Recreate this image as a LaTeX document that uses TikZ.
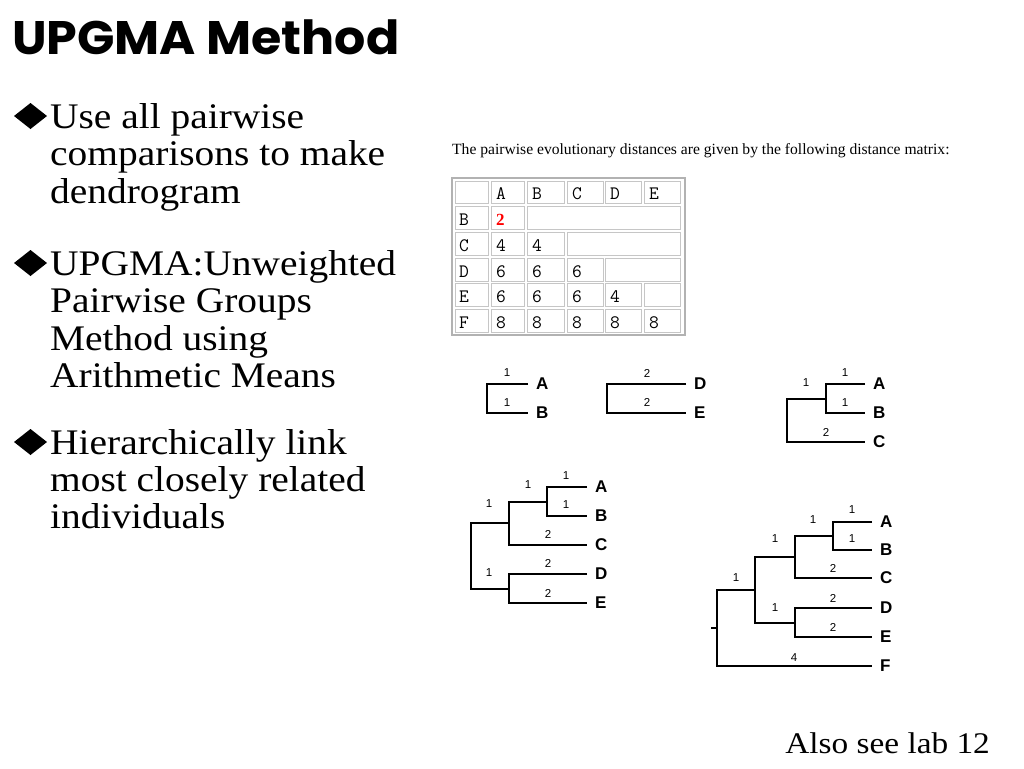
\documentclass[tikz,border=0pt]{standalone}
\usepackage{fontspec}
\usepackage{graphicx}
\setmainfont{Liberation Serif}
\newfontfamily\titlefont{Poppins}
\newfontfamily\sansfont{Liberation Sans}
\newcommand\mydiamond[1]{\fill (14,#1-12) -- (30.5,#1-25) -- (47,#1-12) -- (30.5,#1+1) -- cycle;}
\newcommand\wide[1]{\scalebox{1.095}[1]{#1}}
\begin{document}
\begin{tikzpicture}[x=1pt,y=-1pt,
  bodytext/.style={anchor=base west, inner sep=0pt, font=\fontsize{36}{37.5}\selectfont},
  branch/.style={line width=2pt, line join=miter},
  leaf/.style={anchor=west, inner xsep=8pt, inner ysep=0pt, font=\sansfont\bfseries\fontsize{17}{17}\selectfont},
  blabel/.style={inner sep=0pt, font=\sansfont\fontsize{11.5}{11.5}\selectfont},
  cellline/.style={draw=gray!45, line width=1pt},
  celltext/.style={anchor=base west, inner sep=0pt, font=\ttfamily\fontsize{19}{19}\selectfont}]
\useasboundingbox (0,0) rectangle (1024,768);
\fill[white] (0,0) rectangle (1024,768);

% title
\node[anchor=base west, inner sep=0pt] (title) at (12,55) {\titlefont\bfseries\fontsize{47}{47}\selectfont\scalebox{1.045}[1]{UPGMA Method}};

% bullets
\mydiamond{128}
\node[bodytext] (b1a) at (50,128) {\wide{Use all pairwise}};
\node[bodytext] (b1b) at (50,165.5) {\wide{comparisons to make}};
\node[bodytext] (b1c) at (50,203) {\wide{dendrogram}};
\mydiamond{275}
\node[bodytext] (b2a) at (50,275) {\wide{UPGMA:Unweighted}};
\node[bodytext] (b2b) at (50,312.5) {\wide{Pairwise Groups}};
\node[bodytext] (b2c) at (50,350) {\wide{Method using}};
\node[bodytext] (b2d) at (50,387.5) {\wide{Arithmetic Means}};
\mydiamond{454}
\node[bodytext] (b3a) at (50,454) {\wide{Hierarchically link}};
\node[bodytext] (b3b) at (50,491) {\wide{most closely related}};
\node[bodytext] (b3c) at (50,528) {\wide{individuals}};

\node[anchor=base east, inner sep=0pt, font=\fontsize{30}{30}\selectfont] (also) at (990,753) {\scalebox{1.11}[1]{Also see lab 12}};

% caption
\node[anchor=base west, inner sep=0pt, font=\fontsize{15.6}{15.6}\selectfont] (cap) at (452,154) {The pairwise evolutionary distances are given by the following distance matrix:};

% table
\draw[draw=gray!60, line width=1.5pt] (452,178) rectangle (685,335);
\foreach \xa/\xb in {455/488,491/524,527/564,567/603,605/641,644/680} {
  \draw[cellline] (\xa,181) rectangle (\xb,203);
  \draw[cellline] (\xa,309) rectangle (\xb,332);
  \draw[cellline] (\xa,283) rectangle (\xb,306);
}
\draw[cellline] (455,206) rectangle (488,229);
\draw[cellline] (491,206) rectangle (524,229);
\draw[cellline] (527,206) rectangle (680,229);
\draw[cellline] (455,232) rectangle (488,255);
\draw[cellline] (491,232) rectangle (524,255);
\draw[cellline] (527,232) rectangle (564,255);
\draw[cellline] (567,232) rectangle (680,255);
\foreach \xa/\xb in {455/488,491/524,527/564,567/603} {
  \draw[cellline] (\xa,258) rectangle (\xb,281);
}
\draw[cellline] (605,258) rectangle (680,281);

\node[celltext] (hA) at (496,199) {A};
\node[celltext] (hB) at (532,199) {B};
\node[celltext] (hC) at (572,199) {C};
\node[celltext] (hD) at (610,199) {D};
\node[celltext] (hE) at (649,199) {E};
\node[celltext] (rB) at (459,225) {B};
\node[anchor=base west, inner sep=0pt, text=red, font=\bfseries\fontsize{17}{17}\selectfont] (vBA) at (496,225) {2};
\node[celltext] (rC) at (459,251) {C};
\node[celltext] (vCA) at (496,251) {4};
\node[celltext] (vCB) at (532,251) {4};
\node[celltext] (rD) at (459,277) {D};
\node[celltext] (vDA) at (496,277) {6};
\node[celltext] (vDB) at (532,277) {6};
\node[celltext] (vDC) at (572,277) {6};
\node[celltext] (rE) at (459,302) {E};
\node[celltext] (vEA) at (496,302) {6};
\node[celltext] (vEB) at (532,302) {6};
\node[celltext] (vEC) at (572,302) {6};
\node[celltext] (vED) at (610,302) {4};
\node[celltext] (rF) at (459,328) {F};
\node[celltext] (vFA) at (496,328) {8};
\node[celltext] (vFB) at (532,328) {8};
\node[celltext] (vFC) at (572,328) {8};
\node[celltext] (vFD) at (610,328) {8};
\node[celltext] (vFE) at (649,328) {8};

% tree 1
\node[leaf] (t1A) at (528,384) {A};
\node[leaf] (t1B) at (528,413) {B};
\coordinate (t1j) at (487,398.5);
\draw[branch] (t1A.west) -| (t1j) |- (t1B.west);
\node[blabel] (t1l1) at (507,373) {1};
\node[blabel] (t1l2) at (507,403) {1};

% tree 2
\node[leaf] (t2D) at (686,384) {D};
\node[leaf] (t2E) at (686,413) {E};
\coordinate (t2j) at (607,398.5);
\draw[branch] (t2D.west) -| (t2j) |- (t2E.west);
\node[blabel] (t2l1) at (647,373) {2};
\node[blabel] (t2l2) at (647,402) {2};

% tree 3
\node[leaf] (t3A) at (865,384) {A};
\node[leaf] (t3B) at (865,413) {B};
\node[leaf] (t3C) at (865,442) {C};
\coordinate (t3ab) at (826,398.5);
\coordinate (t3r) at (787,420);
\draw[branch] (t3A.west) -| (t3ab) |- (t3B.west);
\draw[branch] (t3ab) -| (t3r) |- (t3C.west);
\node[blabel] (t3l1) at (845,373) {1};
\node[blabel] (t3l2) at (845,403) {1};
\node[blabel] (t3l3) at (806,383) {1};
\node[blabel] (t3l4) at (826,432) {2};

% tree 4
\node[leaf] (t4A) at (587,487) {A};
\node[leaf] (t4B) at (587,516) {B};
\node[leaf] (t4C) at (587,545) {C};
\node[leaf] (t4D) at (587,574) {D};
\node[leaf] (t4E) at (587,603) {E};
\coordinate (t4ab) at (547,501.5);
\coordinate (t4abc) at (509,523.25);
\coordinate (t4de) at (509,588.5);
\coordinate (t4r) at (471,556);
\draw[branch] (t4A.west) -| (t4ab) |- (t4B.west);
\draw[branch] (t4ab) -| (t4abc) |- (t4C.west);
\draw[branch] (t4D.west) -| (t4de) |- (t4E.west);
\draw[branch] (t4abc) -| (t4r) |- (t4de);
\node[blabel] (t4l1) at (566,476) {1};
\node[blabel] (t4l2) at (566,505) {1};
\node[blabel] (t4l3) at (528,485) {1};
\node[blabel] (t4l4) at (548,534) {2};
\node[blabel] (t4l5) at (489,504) {1};
\node[blabel] (t4l6) at (548,563) {2};
\node[blabel] (t4l7) at (548,593) {2};
\node[blabel] (t4l8) at (489,573) {1};

% tree 5
\node[leaf] (t5A) at (872,522) {A};
\node[leaf] (t5B) at (872,550) {B};
\node[leaf] (t5C) at (872,578) {C};
\node[leaf] (t5D) at (872,608) {D};
\node[leaf] (t5E) at (872,637) {E};
\node[leaf] (t5F) at (872,666) {F};
\coordinate (t5ab) at (833,536);
\coordinate (t5abc) at (795,557);
\coordinate (t5de) at (795,622.5);
\coordinate (t5x) at (755,589.75);
\coordinate (t5r) at (717,628);
\coordinate (t5stub) at (711,628);
\draw[branch] (t5A.west) -| (t5ab) |- (t5B.west);
\draw[branch] (t5ab) -| (t5abc) |- (t5C.west);
\draw[branch] (t5D.west) -| (t5de) |- (t5E.west);
\draw[branch] (t5abc) -| (t5x) |- (t5de);
\draw[branch] (t5x) -| (t5r) |- (t5F.west);
\draw[branch] (t5stub) -- (t5r);
\node[blabel] (t5l1) at (852,510) {1};
\node[blabel] (t5l2) at (852,539) {1};
\node[blabel] (t5l3) at (813,520) {1};
\node[blabel] (t5l4) at (833,568) {2};
\node[blabel] (t5l5) at (775,539) {1};
\node[blabel] (t5l6) at (736,578) {1};
\node[blabel] (t5l7) at (833,598) {2};
\node[blabel] (t5l8) at (833,627) {2};
\node[blabel] (t5l9) at (775,608) {1};
\node[blabel] (t5l10) at (794,658) {4};
\end{tikzpicture}
\end{document}
